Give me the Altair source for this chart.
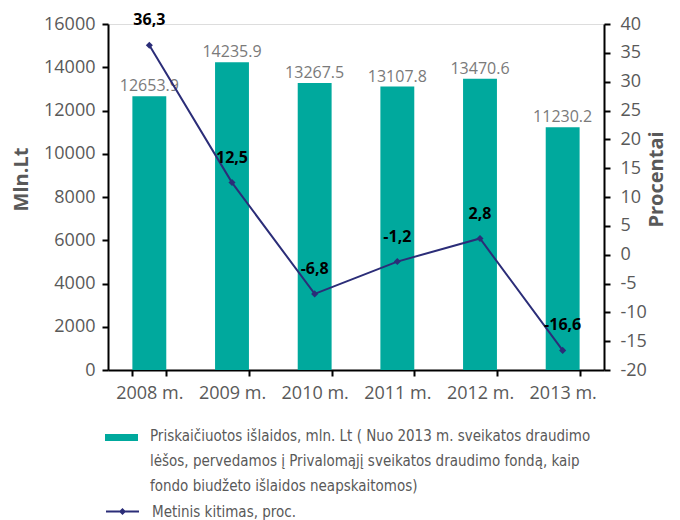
import altair as alt
import pandas as pd

years = ["2008 m.", "2009 m.", "2010 m.", "2011 m.", "2012 m.", "2013 m."]
spending = [12653.9, 14235.9, 13267.5, 13107.8, 13470.6, 11230.2]
spending_text = ["12653.9", "14235.9", "13267.5", "13107.8", "13470.6", "11230.2"]
growth = [36.3, 12.5, -6.8, -1.2, 2.8, -16.6]
growth_text = ["36,3", "12,5", "-6,8", "-1,2", "2,8", "-16,6"]
left_ticks = [0, 2000, 4000, 6000, 8000, 10000, 12000, 14000, 16000]
right_ticks = [-20, -15, -10, -5, 0, 5, 10, 15, 20, 25, 30, 35, 40]

bar_name = ("Priskaičiuotos išlaidos, mln. Lt ( Nuo 2013 m. sveikatos draudimo|"
            "lėšos, pervedamos į Privalomąjį sveikatos draudimo fondą, kaip|"
            "fondo biudžeto išlaidos neapskaitomos)")
line_name = "Metinis kitimas, proc."

TEAL = "#00A99D"
NAVY = "#2B2D78"
GRAY = "#595959"
FONT = "Open Sans"
LEG_FONT = "'Liberation Sans Narrow', 'DejaVu Sans Condensed', sans-serif"

W, H = 496, 346

df = pd.DataFrame({
    "year": years,
    "spending": spending,
    "spending_text": spending_text,
    "growth": growth,
    "growth_text": growth_text,
    "bar_series": [bar_name] * len(years),
    "line_series": [line_name] * len(years),
})

x_enc = alt.X(
    "year:N", sort=years,
    scale=alt.Scale(paddingInner=0.59, paddingOuter=0.295),
    axis=alt.Axis(title=None, labelAngle=0, tickBand="extent", labelFont=FONT,
                  labelFontSize=18, labelColor=GRAY, labelPadding=8,
                  domainColor="black", domainWidth=2, tickColor="black",
                  tickWidth=2, tickSize=6),
)

y_left = alt.Y(
    "spending:Q",
    scale=alt.Scale(domain=[0, 16000], nice=False),
    axis=alt.Axis(values=left_ticks, format="d", title="Mln.Lt",
                  titleFont=FONT, titleFontSize=20, titleFontWeight="bold",
                  titleColor=GRAY, titleAngle=270, titleX=-87, titleY=155,
                  titleAlign="center", titleBaseline="middle",
                  labelFont=FONT, labelOverlap=False,
                  labelFontSize=18, labelColor=GRAY, labelPadding=7,
                  domainColor="black", domainWidth=2, tickColor="black",
                  tickWidth=2, tickSize=6, grid=False),
)

y_right = alt.Y(
    "growth:Q",
    scale=alt.Scale(domain=[-20, 40], nice=False),
    axis=alt.Axis(orient="right", values=right_ticks,
                  labelExpr="'' + datum.value", title="Procentai", titleAngle=270,
                  titleX=52, titleY=155, titleAlign="center", titleBaseline="middle",
                  titleFont=FONT, titleFontSize=20, titleFontWeight="bold",
                  titleColor=GRAY, labelFont=FONT, labelOverlap=False,
                  labelFontSize=18, labelColor=GRAY, labelPadding=10,
                  domainColor="black", domainWidth=2, tickColor="black",
                  tickWidth=2, tickSize=6, grid=False),
)

bars = alt.Chart(df).mark_bar().encode(
    x=x_enc,
    y=y_left,
    fill=alt.Fill(
        "bar_series:N",
        scale=alt.Scale(domain=[bar_name], range=[TEAL]),
        legend=alt.Legend(
            title=None, orient="none", legendX=-3, legendY=388, padding=0,
            symbolType="M-1,0.34H1V0.76H-1Z", symbolSize=1089,
            symbolStrokeWidth=0, symbolFillColor=TEAL,
            labelExpr="split(datum.label, '|')", labelBaseline="top",
            labelFont=LEG_FONT, labelFontSize=15, labelColor=GRAY,
            labelLimit=700, labelOffset=12,
        ),
    ),
)

bar_labels = alt.Chart(df).mark_text(
    baseline="bottom", dy=-2, font=FONT, fontSize=16, color="#7a7a7a"
).encode(x=x_enc, y=y_left, text="spending_text:N")

left = alt.layer(bars, bar_labels)

line = alt.Chart(df).mark_line(strokeWidth=2).encode(
    x=x_enc,
    y=y_right,
    stroke=alt.Stroke(
        "line_series:N",
        scale=alt.Scale(domain=[line_name], range=[NAVY]),
        legend=alt.Legend(
            title=None, orient="none", legendX=-3, legendY=470, padding=0,
            symbolType="M-1,0H1M0,-0.13L0.13,0L0,0.13L-0.13,0Z", symbolSize=1089,
            symbolStrokeWidth=2, symbolStrokeColor=NAVY, symbolFillColor=NAVY,
            labelBaseline="middle",
            labelFont=LEG_FONT, labelFontSize=15, labelColor=GRAY,
            labelLimit=700, labelOffset=12,
        ),
    ),
)

points = alt.Chart(df).mark_point(shape="diamond", filled=True, size=50, color=NAVY, opacity=1).encode(
    x=x_enc, y=y_right
)

line_labels = alt.Chart(df).mark_text(
    baseline="middle", dy=-25, font=FONT, fontSize=16, fontWeight="bold", color="black"
).encode(x=x_enc, y=y_right, text="growth_text:N")

right = alt.layer(line, points, line_labels)

chart = alt.layer(left, right).resolve_scale(y="independent").properties(
    width=W, height=H, padding={"left": 3, "top": 4, "right": 3, "bottom": 0}
).configure_view(stroke=None).configure(
    background="white", style={"guide-label": {"lineHeight": 25}}
)

chart.save("out.html", embed_options={"renderer": "svg", "actions": False})
